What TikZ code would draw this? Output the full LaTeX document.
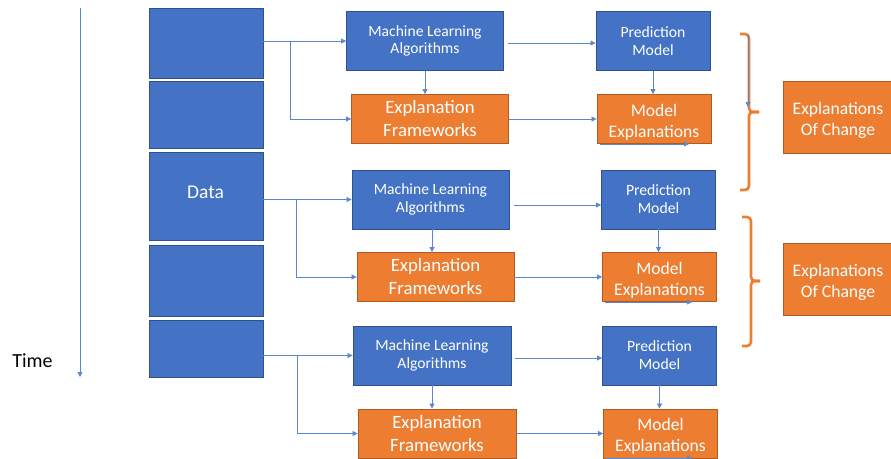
\documentclass[tikz,border=0pt]{standalone}
\usepackage{fontspec}
\setmainfont{Carlito}
\usetikzlibrary{arrows.meta}
\definecolor{bfill}{HTML}{4472C4}
\definecolor{bline}{HTML}{2F528F}
\definecolor{ofill}{HTML}{ED7D31}
\definecolor{oline}{HTML}{AE5A21}
\definecolor{conc}{HTML}{5B87D0}
\begin{document}
\begin{tikzpicture}[x=1pt,y=-1pt,
  bluebox/.style={draw=bline,fill=bfill,line width=0.9pt,text=white,align=center,inner sep=0pt},
  orabox/.style={draw=oline,fill=ofill,line width=0.9pt,text=white,align=center,inner sep=0pt},
  seg/.style={draw=bline,fill=bfill,line width=0.9pt,minimum width=114pt,inner sep=0pt,text=white},
  mlbox/.style={bluebox,minimum width=157pt,minimum height=59pt,font=\fontsize{15.6}{17.5}\selectfont},
  pmbox/.style={bluebox,minimum width=114pt,minimum height=59pt,font=\fontsize{15.7}{18}\selectfont},
  efbox/.style={orabox,minimum width=157pt,minimum height=49pt,font=\fontsize{18.8}{23}\selectfont},
  mebox/.style={orabox,minimum width=114pt,minimum height=49pt},
  eocbox/.style={orabox,minimum width=110pt,minimum height=72pt},
  metext/.style={text=white,align=center,inner sep=0pt,font=\fontsize{17.6}{21}\selectfont},
  conn/.style={draw=conc,line width=0.8pt,-{Triangle[width=5pt,length=5pt]}},
  bracestyle/.style={draw=ofill,line width=2.6pt,rounded corners=4pt}]
\useasboundingbox[fill=white] (0,0) rectangle (891,458);

% time axis
\coordinate (t0) at (80,8);
\coordinate (t1) at (80,377);
\draw[conn] (t0) -- (t1);
\node[font=\fontsize{20}{24}\selectfont,text=black] (time) at (32.5,361) {Time};

% data column
\node[seg,minimum height=70pt] (s1) at (206,43) {};
\node[seg,minimum height=67pt] (s2) at (206,114.5) {};
\node[seg,minimum height=88pt] (s3) at (206,196) {};
\node[seg,minimum height=71pt] (s4) at (206,280.5) {};
\node[seg,minimum height=57pt] (s5) at (206,348.5) {};
\node[text=white,font=\fontsize{19.5}{23}\selectfont] (datal) at (205.5,192) {Data};

% group 1
\node[mlbox] (ml1) at (425,41) {Machine Learning\\Algorithms};
\node[efbox] (ef1) at (430,119) {Explanation\\Frameworks};
\node[pmbox] (pm1) at (653,41) {Prediction\\Model};
\node[mebox] (me1) at (654,119) {};
\node[metext] (me1t) at ([yshift=-3pt]me1.center) {Model\\Explanations};
% group 2
\node[mlbox] (ml2) at (430.5,199.5) {Machine Learning\\Algorithms};
\node[efbox] (ef2) at (435.5,277) {Explanation\\Frameworks};
\node[pmbox] (pm2) at (658.5,199.5) {Prediction\\Model};
\node[mebox] (me2) at (659.5,277) {};
\node[metext] (me2t) at ([yshift=-3pt]me2.center) {Model\\Explanations};
% group 3
\node[mlbox,minimum width=158pt] (ml3) at (432,355.5) {Machine Learning\\Algorithms};
\node[efbox,minimum width=158pt] (ef3) at (437,433.5) {Explanation\\Frameworks};
\node[pmbox] (pm3) at (659.5,355.5) {Prediction\\Model};
\node[mebox] (me3) at (660.5,433.5) {};
\node[metext] (me3t) at ([yshift=-3pt]me3.center) {Model\\Explanations};

% explanations of change
\node[eocbox] (eoc1) at (838,117) {};
\node[metext] (eoc1t) at ([yshift=-3pt]eoc1.center) {Explanations\\Of Change};
\node[eocbox] (eoc2) at (838,279) {};
\node[metext] (eoc2t) at ([yshift=-3pt]eoc2.center) {Explanations\\Of Change};

% connectors group 1
\draw[conn] (s1.east |- ml1.west) -- (ml1.west);
\coordinate (b1) at (290,41);
\draw[conn] (b1) |- (ef1.west);
\draw[conn] (ml1.south) -- (ef1.north -| ml1.south);
\coordinate (r1) at (508,43);
\draw[conn] (r1) -- (pm1.west |- r1);
\draw[conn] (pm1.south) -- (me1.north -| pm1.south);
\draw[conn] (ef1.east) -- (me1.west);
\coordinate (mb1a) at (600,144);
\coordinate (mb1b) at (689,144);
\draw[conn] (mb1a) -- (mb1b);

% connectors group 2
\draw[conn] (s3.east |- ml2.west) -- (ml2.west);
\coordinate (b2) at (296,199.5);
\draw[conn] (b2) |- (ef2.west);
\draw[conn] (ml2.south -| 432,0) -- (ef2.north -| 432,0);
\coordinate (r2) at (514,205);
\draw[conn] (r2) -- (pm2.west |- r2);
\draw[conn] (pm2.south) -- (me2.north -| pm2.south);
\draw[conn] (ef2.east) -- (me2.west);
\coordinate (mb2a) at (605,302);
\coordinate (mb2b) at (692,302);
\draw[conn] (mb2a) -- (mb2b);

% connectors group 3
\draw[conn] (s5.east |- ml3.west) -- (ml3.west);
\coordinate (b3) at (297,355.5);
\draw[conn] (b3) |- (ef3.west);
\draw[conn] (ml3.south -| 432,0) -- (ef3.north -| 432,0);
\coordinate (r3) at (515,358);
\draw[conn] (r3) -- (pm3.west |- r3);
\draw[conn] (pm3.south) -- (me3.north -| pm3.south);
\draw[conn] (ef3.east) -- (me3.west);
\coordinate (mb3a) at (606,458);
\coordinate (mb3b) at (692,458);
\draw[conn] (mb3a) -- (mb3b);

% braces
\draw[bracestyle] (740,34) -- (749,34) -- (749,112) -- (759,112);
\draw[bracestyle] (759,112) -- (749,112) -- (749,190) -- (740,190);
\coordinate (ba) at (748,34);
\coordinate (bb) at (748,107);
\draw[conn] (ba) -- (bb);
\draw[bracestyle] (742,217) -- (751,217) -- (751,281) -- (760,281);
\draw[bracestyle] (760,281) -- (751,281) -- (751,346) -- (742,346);
\end{tikzpicture}
\end{document}
